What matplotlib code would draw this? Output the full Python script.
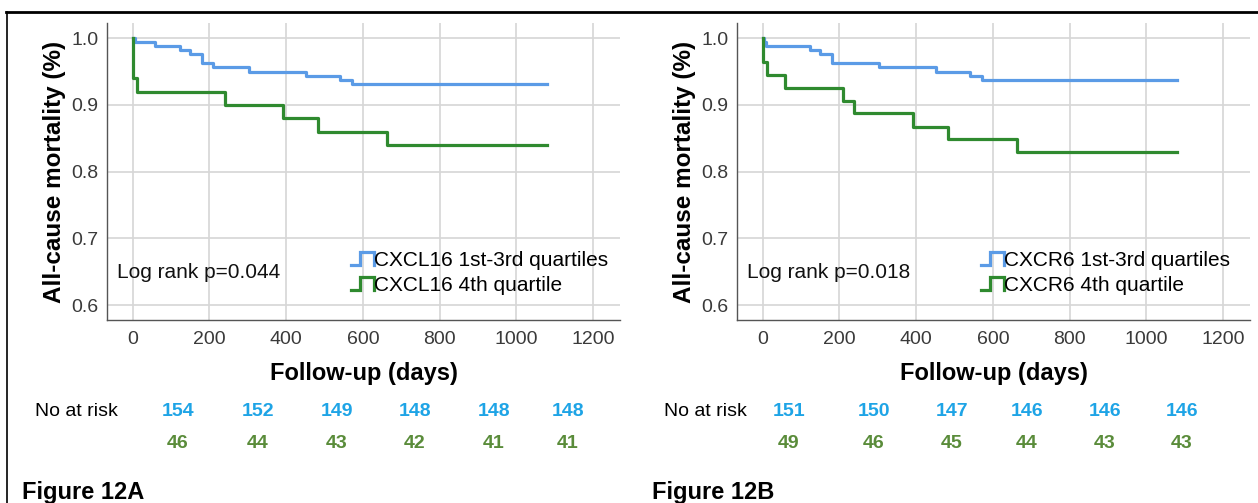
import matplotlib
matplotlib.use("Agg")
import matplotlib.pyplot as plt
from matplotlib.lines import Line2D
from matplotlib.legend_handler import HandlerBase

plt.rcParams['font.family'] = ['Liberation Sans', 'DejaVu Sans']

# Kaplan-Meier curves, days vs survival proportion
a_low_t = [0, 5, 58, 122, 150, 180, 209, 302, 452, 541, 571, 1080]
a_low_s = [1.0, 0.994, 0.9885, 0.9825, 0.9765, 0.9625, 0.9565, 0.950, 0.944, 0.9375, 0.9315, 0.9315]
a_high_t = [0, 2, 12, 241, 393, 484, 662, 1080]
a_high_s = [1.0, 0.94, 0.92, 0.90, 0.88, 0.86, 0.84, 0.84]

b_low_t = [0, 3, 8, 122, 150, 180, 302, 452, 541, 571, 1080]
b_low_s = [1.0, 0.994, 0.9885, 0.9825, 0.9765, 0.9625, 0.9565, 0.950, 0.944, 0.9375, 0.9375]
b_high_t = [0, 2, 12, 58, 209, 238, 393, 484, 662, 1080]
b_high_s = [1.0, 0.964, 0.945, 0.925, 0.9065, 0.8875, 0.8675, 0.849, 0.83, 0.83]

a_labels = ['CXCL16 1st-3rd quartiles', 'CXCL16 4th quartile']
b_labels = ['CXCR6 1st-3rd quartiles', 'CXCR6 4th quartile']
a_pval = 'Log rank p=0.044'
b_pval = 'Log rank p=0.018'

a_risk_low = [154, 152, 149, 148, 148, 148]
a_risk_high = [46, 44, 43, 42, 41, 41]
b_risk_low = [151, 150, 147, 146, 146, 146]
b_risk_high = [49, 46, 45, 44, 43, 43]

x_ticks = [0, 200, 400, 600, 800, 1000, 1200]
y_ticks = [0.6, 0.7, 0.8, 0.9, 1.0]

BLUE = '#5b9be6'
GREEN = '#2f8a2f'
RISK_BLUE = '#1ea4e6'
RISK_GREEN = '#5a8c3a'

W, H = 1258, 503


class StepHandler(HandlerBase):
    # little "_|~|" glyph used by SPSS survival legends
    def create_artists(self, legend, orig, xd, yd, width, height, fontsize, trans):
        x0 = xd
        lo = yd + height * 0.1
        hi = yd + height * 0.95
        xs = [x0, x0 + width * 0.4, x0 + width * 0.4, x0 + width, x0 + width]
        ys = [lo, lo, hi, hi, lo]
        ln = Line2D(xs, ys, color=orig.get_color(), lw=orig.get_linewidth(),
                    solid_joinstyle='miter', transform=trans)
        return [ln]


def km_panel(left_px, lo_t, lo_s, hi_t, hi_s, labels, pval):
    ax = fig.add_axes([left_px / W, (H - 320) / H, 513 / W, 297 / H])
    l1, = ax.plot(lo_t, lo_s, drawstyle='steps-post', color=BLUE, lw=2.3)
    l2, = ax.plot(hi_t, hi_s, drawstyle='steps-post', color=GREEN, lw=2.3)
    ax.set_xlim(-67, 1270)
    ax.set_ylim(0.5775, 1.023)
    ax.set_xticks(x_ticks)
    ax.set_yticks(y_ticks)
    ax.set_yticklabels(['%.1f' % v for v in y_ticks])
    ax.tick_params(axis='both', length=0, labelsize=14, colors='#3a3a3a')
    ax.tick_params(axis='x', pad=8)
    ax.tick_params(axis='y', pad=6)
    ax.grid(True, color='#d6d6d6', lw=1.2)
    ax.set_axisbelow(True)
    for s in ['top', 'right']:
        ax.spines[s].set_visible(False)
    for s in ['left', 'bottom']:
        ax.spines[s].set_color('#555555')
        ax.spines[s].set_linewidth(1.0)
    ax.set_xlabel('Follow-up (days)', fontsize=17, fontweight='bold', labelpad=10)
    ax.set_ylabel('All-cause mortality (%)', fontsize=17.5, fontweight='bold', labelpad=4)
    ax.legend([l1, l2], labels, handler_map={Line2D: StepHandler()},
              loc='lower left', bbox_to_anchor=(0.46, 0.055), frameon=False,
              fontsize=15, handlelength=1.1, handletextpad=0.0,
              labelspacing=0.3, borderaxespad=0)
    ax.text(0.02, 0.16, pval, transform=ax.transAxes, fontsize=15,
            va='center', ha='left', color='#111111')
    return ax


fig = plt.figure(figsize=(W / 100, H / 100), dpi=100)

km_panel(107, a_low_t, a_low_s, a_high_t, a_high_s, a_labels, a_pval)
km_panel(737, b_low_t, b_low_s, b_high_t, b_high_s, b_labels, b_pval)

# numbers at risk under each panel
a_risk_x = [178, 258, 337, 415, 494, 568]
b_risk_x = [789, 874, 952, 1027, 1105, 1182]
for start, xs, top, bot in [(35, a_risk_x, a_risk_low, a_risk_high),
                            (664, b_risk_x, b_risk_low, b_risk_high)]:
    fig.text(start / W, 1 - 411 / H, 'No at risk', fontsize=14,
             va='center', ha='left')
    for x, n1, n2 in zip(xs, top, bot):
        fig.text(x / W, 1 - 411 / H, str(n1), fontsize=14, fontweight='bold',
                 color=RISK_BLUE, va='center', ha='center')
        fig.text(x / W, 1 - 443 / H, str(n2), fontsize=14, fontweight='bold',
                 color=RISK_GREEN, va='center', ha='center')

fig.text(22 / W, 1 - 492 / H, 'Figure 12A', fontsize=17, fontweight='bold',
         va='center', ha='left')
fig.text(652 / W, 1 - 492 / H, 'Figure 12B', fontsize=17, fontweight='bold',
         va='center', ha='left')

# frame lines along top and left edge
fig.add_artist(Line2D([6 / W, 1], [1 - 12 / H, 1 - 12 / H], color='black', lw=2))
fig.add_artist(Line2D([7 / W, 7 / W], [0, 1 - 12 / H], color='black', lw=1.2))

fig.savefig('out.png', dpi=100)
